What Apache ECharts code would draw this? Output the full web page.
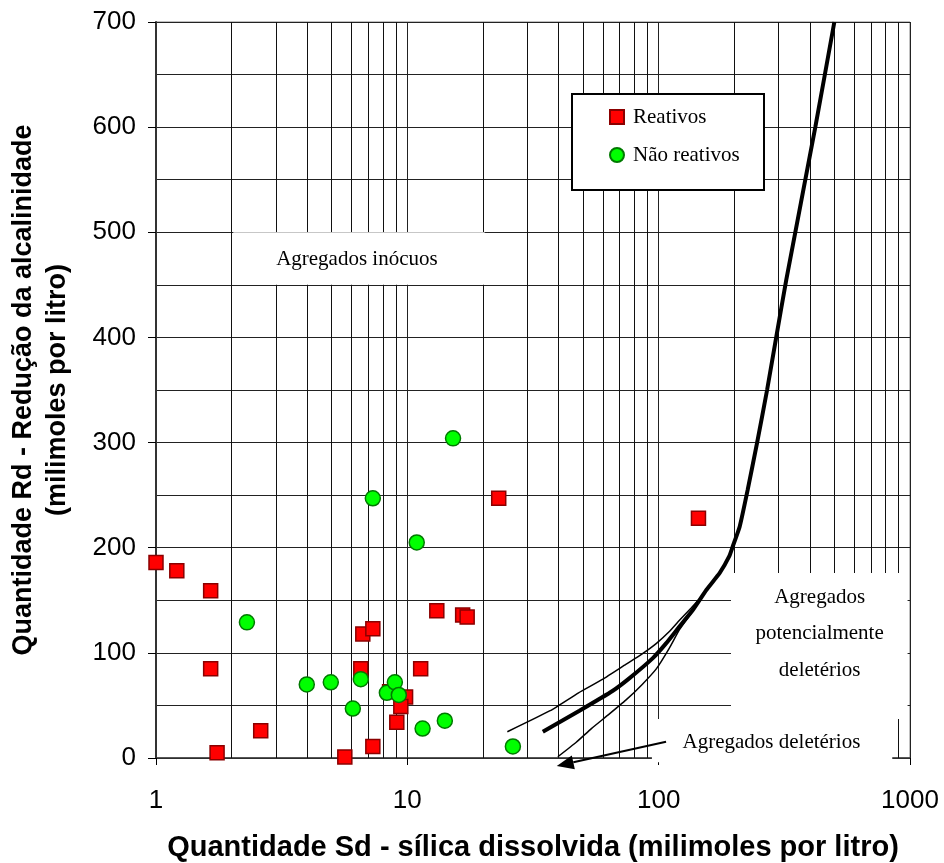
<!DOCTYPE html>
<html><head><meta charset="utf-8">
<script src="https://cdn.jsdelivr.net/npm/echarts@6/dist/echarts.min.js"></script>
<style>html,body{margin:0;padding:0;background:#fff}#c{width:944px;height:863px}</style>
</head><body><div id="c"></div><script>
// ---- data ----
const reativos = [[1.0,186],[1.21,178],[1.65,159],[1.65,85],[1.75,5],[2.61,26],[5.64,1],[7.29,11],[6.65,118],[7.29,123],[6.53,85],[8.5,63],[9.84,58],[9.42,49],[9.08,34],[11.3,85],[13.1,140],[16.6,136],[17.3,134],[23.1,247],[144,228]];
const naoReativos = [[2.30,129],[3.98,70],[4.96,72],[6.07,47],[6.53,75],[7.29,247],[10.9,205],[15.2,304],[8.29,62],[8.92,72],[9.25,60],[11.5,28],[14.1,35.5],[26.3,11]];
const curvaLimite = [[34.6,25],[48.4,45],[65.7,64],[76.6,76],[94.8,95],[107,109],[121,125],[137,141],[155,160],[175,176],[191,192],[197,201],[210,220],[226,255],[246,299],[270,350],[294,401],[322,455],[420,600],[500,700]];
const limiteSuperior = [[25,25],[37,45],[48,62],[60,75],[74,89],[86,99],[98,109],[110,120],[121,131],[135,143],[150,155]];
const limiteInferior = [[39.7,1.2],[47,15],[54,28],[63,41],[74,55],[86,70],[98,85],[110,104],[121,122],[135,138],[150,155]];
const xMinorGrid = [2,3,4,5,6,7,8,9,20,30,40,50,60,70,80,90,200,300,400,500,600,700,800,900];
const xTickLabels = ['1','10','100','1000'];
const yTicks = [0,100,200,300,400,500,600,700];
// annotation anchors (data coordinates)
const boxInocuos = [[2.03,500],[20.3,450]];
const boxPotencial = [[194,176],[978,37]];
const boxDeleterios = [[94,37],[850,-4]];
const txtInocuos = {pos:[6.3,474], text:'Agregados inócuos'};
const txtPotencial = {pos:[437,118], text:'Agregados\npotencialmente\ndeletérios'};
const txtDeleterios = {pos:[281,15], text:'Agregados deletérios'};
const arrowDel = [[107,15.5],[39.3,-7.6]];

const chart = echarts.init(document.getElementById('c'), null, {renderer:'canvas'});
const sans = 'Liberation Sans, Arial, sans-serif';
const serif = 'Liberation Serif, Times New Roman, serif';
chart.setOption({
  animation:false,
  backgroundColor:'#fff',
  grid:{left:156, right:34, top:22, bottom:105, containLabel:false, outerBoundsMode:'none',
    show:true, borderColor:'#808080', borderWidth:1, backgroundColor:'transparent'},
  legend:{
    data:['Reativos','Não reativos'], orient:'vertical', left:604, top:101, z:20,
    itemWidth:14, itemHeight:14, itemGap:16,
    textStyle:{fontFamily:serif, fontSize:21, color:'#000', padding:[0,0,0,4], lineHeight:22}
  },
  xAxis:{
    type:'log', logBase:10, min:1, max:1000,
    name:'Quantidade Sd - sílica dissolvida (milimoles por litro)',
    nameLocation:'middle', nameGap:75,
    nameTextStyle:{fontFamily:sans, fontWeight:'bold', fontSize:29, color:'#000'},
    axisLine:{show:true, onZero:false, lineStyle:{color:'#333', width:1.5}},
    axisTick:{show:true, inside:false, length:7, lineStyle:{color:'#000'}},
    axisLabel:{fontFamily:sans, fontSize:26, color:'#000', margin:30,
      formatter:v=>{const i=Math.round(Math.log10(v)); return xTickLabels[i]!==undefined?xTickLabels[i]:'';}},
    splitLine:{show:true, lineStyle:{color:'#222', width:1}},
    minorTick:{show:false}, minorSplitLine:{show:false}
  },
  yAxis:{
    type:'value', min:0, max:700, interval:100,
    name:'Quantidade Rd - Redução da alcalinidade\n(milimoles por litro)',
    nameLocation:'middle', nameGap:81,
    nameTextStyle:{fontFamily:sans, fontWeight:'bold', fontSize:27, color:'#000', lineHeight:34},
    axisLine:{show:true, lineStyle:{color:'#333', width:2}},
    axisTick:{show:true, inside:false, length:8, lineStyle:{color:'#000'}},
    axisLabel:{fontFamily:sans, fontSize:26, color:'#000', margin:20,
      formatter:v=>yTicks.indexOf(Math.round(v))>=0?String(Math.round(v)):''},
    splitLine:{show:true, lineStyle:{color:'#222', width:1}},
    minorTick:{show:false, splitNumber:2},
    minorSplitLine:{show:true, lineStyle:{color:'#222', width:1}}
  },
  series:[
    {type:'line', name:'grid', data:[], silent:true, z:1,
      markLine:{silent:true, symbol:['none','none'], label:{show:false}, animation:false,
        lineStyle:{color:'#111', width:1, type:'solid'},
        emphasis:{disabled:true},
        data:xMinorGrid.map(v=>({xAxis:v}))}},
    {type:'line', name:'limite', data:curvaLimite, showSymbol:false, symbol:'none', smooth:0.15, z:10, clip:false,
      lineStyle:{color:'#000', width:4}, silent:true},
    {type:'line', name:'sup', data:limiteSuperior, showSymbol:false, symbol:'none', smooth:0.15, z:10, clip:false,
      lineStyle:{color:'#000', width:1.5}, silent:true},
    {type:'line', name:'inf', data:limiteInferior, showSymbol:false, symbol:'none', smooth:0.15, z:10, clip:false,
      lineStyle:{color:'#000', width:1.5}, silent:true},
    {type:'scatter', name:'Reativos', data:reativos, symbol:'rect', symbolSize:14, z:11,
      itemStyle:{color:'#ff0000', borderColor:'#8b0000', borderWidth:1.5, opacity:1}},
    {type:'scatter', name:'Não reativos', data:naoReativos, symbol:'circle', symbolSize:15, z:12,
      itemStyle:{color:'#00ff00', borderColor:'#007a00', borderWidth:1.5, opacity:1}}
  ]
});

function px(p){return chart.convertToPixel({gridIndex:0}, p);}
function boxRect(b){
  const a=px(b[0]), c=px(b[1]);
  return {type:'rect', z:6, silent:true,
    shape:{x:Math.min(a[0],c[0]), y:Math.min(a[1],c[1]), width:Math.abs(c[0]-a[0]), height:Math.abs(c[1]-a[1])},
    style:{fill:'#fff', stroke:null}};
}
function label(t, lh){
  const p=px(t.pos);
  return {type:'text', z:7, silent:true, x:p[0], y:p[1],
    style:{text:t.text, fontFamily:serif, fontSize:21, fill:'#000', align:'center', verticalAlign:'middle', lineHeight:lh||24}};
}
const a0=px(arrowDel[0]), a1=px(arrowDel[1]);
const dx=a1[0]-a0[0], dy=a1[1]-a0[1], L=Math.hypot(dx,dy), ux=dx/L, uy=dy/L;
const hl=17, hw=7;
const base=[a1[0]-ux*hl, a1[1]-uy*hl];
const head=[[a1[0],a1[1]],[base[0]-uy*hw, base[1]+ux*hw],[base[0]+uy*hw, base[1]-ux*hw]];
chart.setOption({graphic:[
  boxRect(boxInocuos), boxRect(boxPotencial), boxRect(boxDeleterios),
  label(txtInocuos), label(txtPotencial, 36.5), label(txtDeleterios),
  {type:'line', z:7, silent:true, shape:{x1:a0[0], y1:a0[1], x2:base[0], y2:base[1]}, style:{stroke:'#000', lineWidth:2}},
  {type:'polygon', z:7, silent:true, shape:{points:head}, style:{fill:'#000'}},
  {type:'rect', z:8, silent:true, shape:{x:572, y:94, width:192, height:96}, style:{fill:'#fff', stroke:'#000', lineWidth:2}}
]});
</script></body></html>
